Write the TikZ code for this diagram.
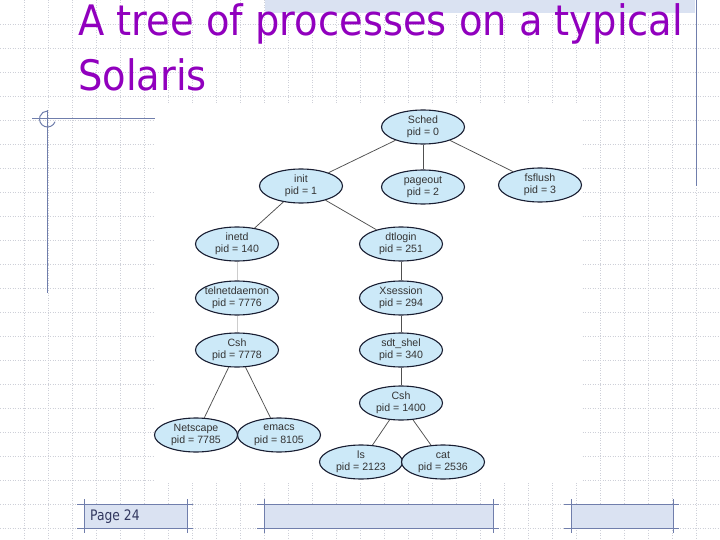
\documentclass[tikz,border=0pt]{standalone}
\usepackage{fontspec}
\setmainfont{Liberation Sans}
\newfontfamily\titlefont[FakeStretch=0.915]{DejaVu Sans}
\newfontfamily\footfont[FakeStretch=0.85]{DejaVu Sans}
\usetikzlibrary{shapes.geometric}
\definecolor{gridc}{RGB}{206,208,216}
\definecolor{slate}{RGB}{112,126,172}
\definecolor{hatch}{RGB}{218,226,242}
\definecolor{titlec}{RGB}{145,0,190}
\definecolor{procfill}{RGB}{204,233,248}
\definecolor{procline}{RGB}{25,30,50}
\definecolor{edgec}{RGB}{80,80,80}
\definecolor{faintedge}{RGB}{205,205,205}
\definecolor{footc}{RGB}{50,55,95}
\begin{document}
\begin{tikzpicture}[x=1pt,y=-1pt,
  proc/.style={ellipse, draw=procline, line width=1.1pt, fill=procfill,
    minimum width=83pt, minimum height=34pt, inner xsep=-4pt, inner ysep=0pt,
    align=center, font=\fontsize{10.6}{12.5}\selectfont, text=black!80},
  link/.style={draw=edgec, line width=0.75pt},
  faint/.style={draw=faintedge, line width=0.8pt},
  gridline/.style={draw=gridc, line width=0.6pt, dash pattern=on 1pt off 1.5pt},
  deco/.style={draw=slate, line width=1pt},
  footbox/.style={fill=hatch},
  titletext/.style={anchor=base west, text=titlec, inner sep=0pt,
    font=\titlefont\fontsize{42}{50}\selectfont}
]
\useasboundingbox (0,0) rectangle (720,540);
\fill[white] (0,0) rectangle (720,540);
% grid
\foreach \i in {1,...,29} \draw[gridline] (24*\i,0) -- (24*\i,540);
\foreach \j in {1,...,22} \draw[gridline] (0,24*\j) -- (720,24*\j);
% top decorations
\fill[hatch] (265,0) rectangle (695,13);
\draw[deco] (696,0) -- (696,186);
% left decoration
\draw[deco] (32,119) -- (155,119);
\draw[deco] (47.5,110) -- (47.5,293);
\draw[deco] (47.5,119) ++(20:8) arc[start angle=20, end angle=270, radius=8];
% image area
\fill[white] (155,103) rectangle (581,483);
% title
\node[titletext] (title1) at (78,36) {A tree of processes on a typical};
\node[titletext] (title2) at (78,91) {Solaris};
% footer
\foreach \a/\b in {84/187, 264/493, 571/673} {
  \fill[footbox] (\a,504) rectangle (\b,528);
  \draw[deco] (\a-7,504) -- (\b+6,504);
  \draw[deco] (\a-7,528) -- (\b+6,528);
  \draw[deco] (\a,499) -- (\a,533);
  \draw[deco] (\b,499) -- (\b,533);
}
\node[anchor=base west, inner sep=0pt, text=footc,
  font=\footfont\fontsize{14.5}{16}\selectfont] (page) at (90,520) {Page 24};
% tree
\node[proc] (sched) at (423,127) {Sched\\pid = 0};
\node[proc] (init) at (301,186) {init\\pid = 1};
\node[proc] (pageout) at (423,187) {pageout\\pid = 2};
\node[proc] (fsflush) at (540,185) {fsflush\\pid = 3};
\node[proc] (inetd) at (237,244) {inetd\\pid = 140};
\node[proc] (dtlogin) at (401,244) {dtlogin\\pid = 251};
\node[proc] (telnet) at (237,298) {telnetdaemon\\pid = 7776};
\node[proc] (xsession) at (401,298) {Xsession\\pid = 294};
\node[proc] (csha) at (237,350) {Csh\\pid = 7778};
\node[proc] (sdt) at (401,350) {sdt\_shel\\pid = 340};
\node[proc] (cshb) at (401,403) {Csh\\pid = 1400};
\node[proc] (netscape) at (196,435) {Netscape\\pid = 7785};
\node[proc] (emacs) at (279,435) {emacs\\pid = 8105};
\node[proc] (ls) at (361,462) {ls\\pid = 2123};
\node[proc] (cat) at (443,462) {cat\\pid = 2536};
% connectors
\draw[link] (sched) -- (init);
\draw[link] (sched) -- (pageout);
\draw[link] (sched) -- (fsflush);
\draw[link] (init) -- (inetd);
\draw[link] (init) -- (dtlogin);
\draw[faint] (inetd) -- (telnet);
\draw[faint] (telnet) -- (csha);
\draw[link] (dtlogin) -- (xsession);
\draw[link] (xsession) -- (sdt);
\draw[link] (sdt) -- (cshb);
\draw[link] (csha) -- (netscape);
\draw[link] (csha) -- (emacs);
\draw[link] (cshb) -- (ls);
\draw[link] (cshb) -- (cat);
\end{tikzpicture}
\end{document}
